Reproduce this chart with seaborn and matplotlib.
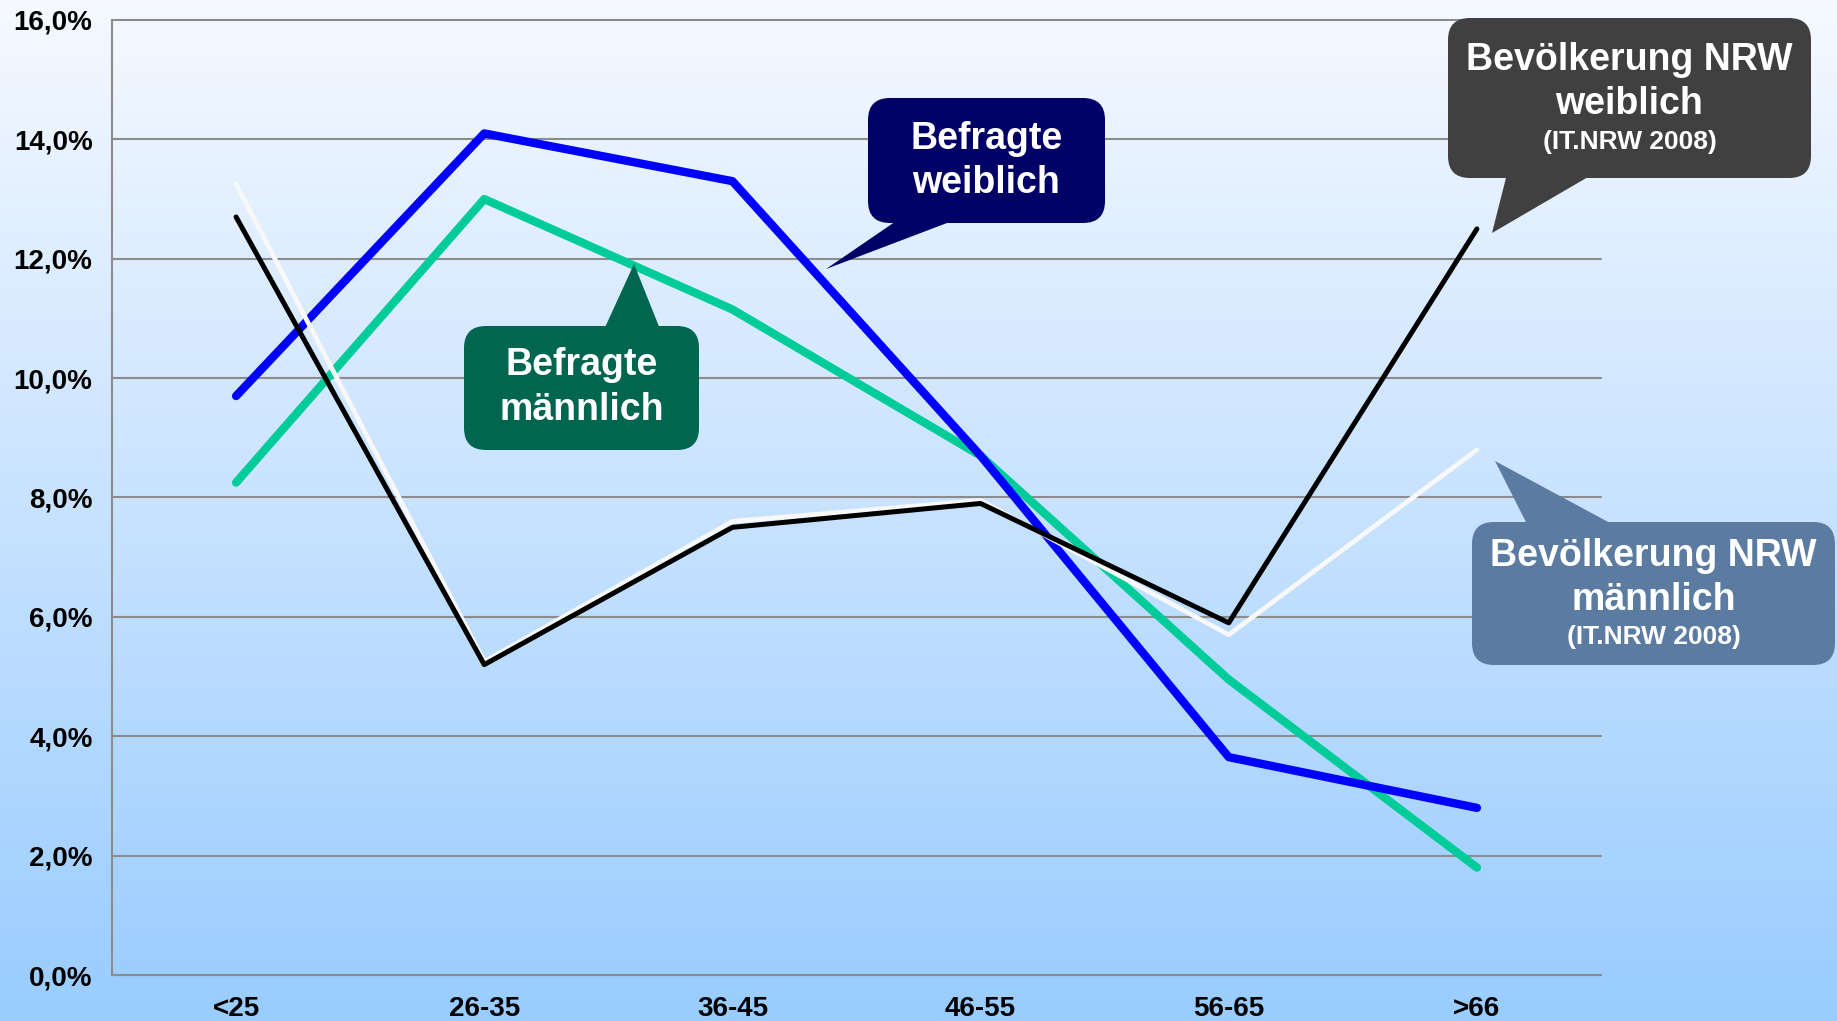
import numpy as np
import pandas as pd
import seaborn as sns
import matplotlib.pyplot as plt
from matplotlib.patches import FancyBboxPatch, Polygon
from matplotlib.ticker import FuncFormatter, FixedLocator

# Age groups and shares (percent)
age_groups = ['<25', '26-35', '36-45', '46-55', '56-65', '>66']
befragte_weiblich = [9.7, 14.1, 13.3, 8.7, 3.65, 2.8]
befragte_maennlich = [8.25, 13.0, 11.15, 8.7, 4.95, 1.8]
nrw_weiblich = [12.7, 5.2, 7.5, 7.9, 5.9, 12.5]
nrw_maennlich = [13.25, 5.25, 7.6, 7.95, 5.7, 8.8]

sns.set_style('white')
plt.rcParams['font.family'] = ['Liberation Sans', 'DejaVu Sans']
plt.rcParams['font.weight'] = 'bold'

W, H = 1837, 1021
fig = plt.figure(figsize=(W / 100, H / 100), dpi=100)

# Background gradient over the whole figure
bg = fig.add_axes([0, 0, 1, 1], zorder=-10)
top = np.array([246, 249, 255]) / 255
bottom = np.array([153, 204, 255]) / 255
t = np.linspace(0, 1, 256)[:, None]
grad = (top[None, :] * (1 - t) + bottom[None, :] * t)[:, None, :]
bg.imshow(grad, aspect='auto', extent=[0, 1, 0, 1])
bg.set_axis_off()

# Main chart
ax = fig.add_axes([112 / W, (H - 975) / H, (1601 - 112) / W, (975 - 20) / H])
ax.patch.set_alpha(0)

x = np.arange(len(age_groups))
df = pd.DataFrame({'age': x,
                   'bw': befragte_weiblich,
                   'bm': befragte_maennlich,
                   'nw': nrw_weiblich,
                   'nm': nrw_maennlich})

sns.lineplot(data=df, x='age', y='bm', ax=ax, color='#00CC99', linewidth=6,
             solid_capstyle='round', zorder=3)
sns.lineplot(data=df, x='age', y='bw', ax=ax, color='#0000FF', linewidth=6,
             solid_capstyle='round', zorder=4)
sns.lineplot(data=df, x='age', y='nm', ax=ax, color='#F8F8F8', linewidth=3.4,
             solid_capstyle='round', zorder=5)
sns.lineplot(data=df, x='age', y='nw', ax=ax, color='#000000', linewidth=3.6,
             solid_capstyle='round', zorder=6)

ax.set_xlim(-0.5, len(age_groups) - 0.5)
ax.set_ylim(0, 16)
ax.set_xlabel('')
ax.set_ylabel('')

ax.set_yticks(np.arange(0, 17, 2))
ax.yaxis.set_major_formatter(FuncFormatter(lambda v, p: f'{v:.1f}%'.replace('.', ',')))
ax.set_xticks(x)
ax.set_xticklabels(age_groups)
ax.xaxis.set_minor_locator(FixedLocator(np.arange(-0.5, len(age_groups), 1)))

grid_col = '#8c8c8c'
ax.grid(axis='y', color=grid_col, linewidth=1.5, zorder=1)
ax.set_axisbelow(True)
for gl in ax.get_ygridlines():
    gl.set_clip_on(False)
for side in ['top', 'right']:
    ax.spines[side].set_visible(False)
for side in ['left', 'bottom']:
    ax.spines[side].set_color(grid_col)
    ax.spines[side].set_linewidth(1.5)

ax.tick_params(axis='y', which='major', direction='out', length=5, width=1.5,
               color=grid_col, pad=9, labelsize=20, labelcolor='black')
ax.tick_params(axis='x', which='major', length=0, pad=15, labelsize=20,
               labelcolor='black')
ax.tick_params(axis='x', which='minor', direction='out', length=6, width=1.5,
               color=grid_col)
for lbl in ax.get_xticklabels() + ax.get_yticklabels():
    lbl.set_fontweight('bold')

# Callouts in pixel space
ov = fig.add_axes([0, 0, 1, 1], zorder=10)
ov.set_xlim(0, W)
ov.set_ylim(H, 0)
ov.set_axis_off()
ov.patch.set_alpha(0)


def callout(box, tip, base, color, lines):
    x0, y0, x1, y1 = box
    ov.add_patch(Polygon([base[0], tip, base[1]], closed=True, facecolor=color,
                         edgecolor='none'))
    ov.add_patch(FancyBboxPatch((x0, y0), x1 - x0, y1 - y0,
                                boxstyle='round,pad=0,rounding_size=22',
                                facecolor=color, edgecolor='none'))
    for txt, y, size in lines:
        ov.text((x0 + x1) / 2, y, txt, color='white', fontsize=size,
                fontweight='bold', ha='center', va='center')


callout((868, 98, 1105, 223), (826, 269), ((905, 215), (968, 215)), '#000066',
        [('Befragte', 139, 27), ('weiblich', 183, 27)])
callout((464, 326, 699, 450), (634, 264), ((602, 334), (662, 334)), '#006650',
        [('Befragte', 365, 27), ('männlich', 410, 27)])
callout((1448, 18, 1811, 178), (1492, 233), ((1508, 170), (1600, 170)), '#404040',
        [('Bevölkerung NRW', 60, 27), ('weiblich', 104, 27), ('(IT.NRW 2008)', 142, 19)])
callout((1472, 522, 1835, 665), (1495, 461), ((1530, 530), (1623, 530)), '#5B7BA1',
        [('Bevölkerung NRW', 556, 27), ('männlich', 600, 27), ('(IT.NRW 2008)', 637, 19)])

fig.savefig('out.png', dpi=100)
